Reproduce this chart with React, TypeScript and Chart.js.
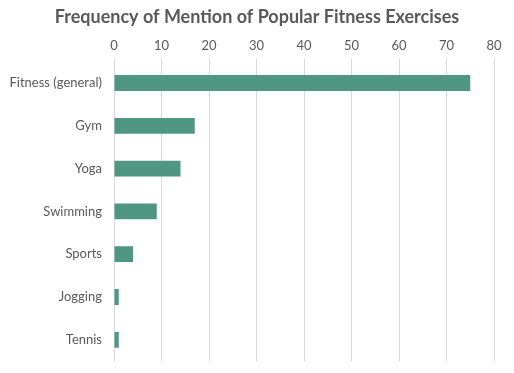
import React, { useEffect, useRef } from "react";
import { Chart, registerables } from "chart.js";

Chart.register(...registerables);

const categories = ["Fitness (general)", "Gym", "Yoga", "Swimming", "Sports", "Jogging", "Tennis"];
const mentions = [75, 17, 14, 9, 4, 1, 1];
const titleText = "Frequency of Mention of Popular Fitness Exercises";

const centeredTitle = {
  id: "centeredTitle",
  afterDraw(chart: any) {
    const ctx = chart.ctx;
    ctx.save();
    ctx.fillStyle = "#595959";
    ctx.font = "bold 18px Lato";
    ctx.textAlign = "center";
    ctx.textBaseline = "middle";
    ctx.fillText(titleText, chart.width / 2, 17);
    ctx.restore();
  },
};

export default function App() {
  const ref = useRef<HTMLCanvasElement | null>(null);
  useEffect(() => {
    if (!ref.current) return;
    const chart = new Chart(ref.current, {
      type: "bar",
      data: {
        labels: categories,
        datasets: [
          {
            data: mentions,
            backgroundColor: "#4F9683",
            borderWidth: 0,
            barPercentage: 0.74,
            categoryPercentage: 0.5,
          },
        ],
      },
      options: {
        indexAxis: "y",
        animation: false,
        responsive: false,
        maintainAspectRatio: false,
        layout: { padding: { left: 2, right: 20, top: 33, bottom: 0 } },
        plugins: {
          legend: { display: false },
          tooltip: { enabled: false },
          title: { display: false },
        },
        scales: {
          x: {
            position: "top",
            min: 0,
            max: 80,
            ticks: {
              stepSize: 10,
              color: "#595959",
              font: { family: "Lato", size: 13 },
              padding: 5,
            },
            grid: { color: "#D9D9D9", tickLength: 3, drawTicks: true },
            border: { display: false },
          },
          y: {
            afterFit: (scale: any) => {
              scale.width = 112;
            },
            grid: { display: false },
            border: { display: false },
            ticks: {
              color: "#595959",
              font: { family: "Lato", size: 13 },
              padding: 4,
            },
          },
        },
      },
      plugins: [centeredTitle],
    });
    return () => chart.destroy();
  }, []);
  return (
    <div style={{ position: "absolute", left: 0, top: 0, width: 514, height: 373, background: "#fff" }}>
      <canvas ref={ref} width={514} height={373} style={{ width: 514, height: 373 }} />
    </div>
  );
}
